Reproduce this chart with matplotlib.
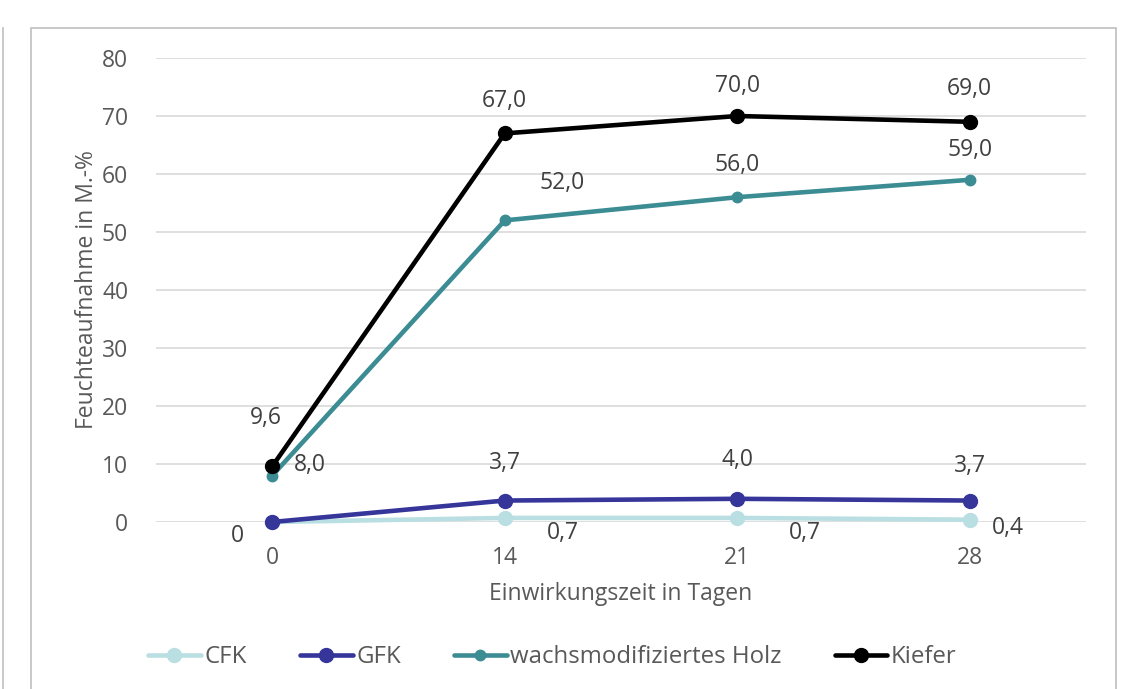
import matplotlib
matplotlib.use("Agg")
import matplotlib.pyplot as plt
from matplotlib.patches import Rectangle
from matplotlib.lines import Line2D

plt.rcParams['font.family'] = ['Open Sans', 'DejaVu Sans']

tage = ['0', '14', '21', '28']
cfk = [0.0, 0.7, 0.7, 0.4]
gfk = [0.0, 3.7, 4.0, 3.7]
holz = [8.0, 52.0, 56.0, 59.0]
kiefer = [9.6, 67.0, 70.0, 69.0]

# (name, values, colour, marker size, label offsets in px, which points get a label)
series = [
    ('CFK', cfk, '#badfe2', 10,
     [(-35, -14), (58, -15), (68, -15), (38, -8)], [1, 1, 1, 1]),
    ('GFK', gfk, '#35359a', 10,
     [(0, 0), (0, 38), (0, 39), (0, 35)], [0, 1, 1, 1]),
    ('wachsmodifiziertes Holz', holz, '#3c8c93', 7.5,
     [(38, 11), (57, 37), (0, 32), (0, 30)], [1, 1, 1, 1]),
    ('Kiefer', kiefer, '#000000', 10,
     [(-6, 48), (0, 32), (0, 30), (0, 33)], [1, 1, 1, 1]),
]

def fmt(v):
    if v == 0:
        return '0'
    return ('%.1f' % v).replace('.', ',')

fig = plt.figure(figsize=(11.39, 6.89), dpi=100)
W, H = 1139, 689

# outer chart frames
fig.patches.append(Rectangle((31 / W, -0.01), (1116 - 31) / W, 1 - 28 / H + 0.01,
                             transform=fig.transFigure, fill=False,
                             edgecolor='#bfbfbf', lw=1.2))
fig.add_artist(Line2D([3 / W, 3 / W], [0, 1 - 28 / H], transform=fig.transFigure,
                      color='#bfbfbf', lw=1.2))

ax = fig.add_axes([156 / W, 1 - 522 / H, (1086 - 156) / W, (522 - 58) / H])
x = list(range(len(tage)))

for name, vals, col, ms, offs, show in series:
    ax.plot(x, vals, color=col, lw=3.3, marker='o', ms=ms, label=name,
            clip_on=False, zorder=3, solid_capstyle='round')
    for i, v in enumerate(vals):
        if not show[i]:
            continue
        ax.annotate(fmt(v), (x[i], v), xytext=offs[i], textcoords='offset pixels',
                    ha='center', va='center', fontsize=16.5, color='#404040')

ax.set_xlim(-0.5, 3.5)
ax.set_ylim(0, 80)
ax.set_yticks(range(0, 81, 10))
ax.set_xticks(x)
ax.set_xticklabels(tage)
ax.grid(axis='y', color='#d9d9d9', lw=1.2)
ax.set_axisbelow(True)
for s in ax.spines.values():
    s.set_visible(False)
ax.tick_params(length=0, labelsize=16.5, labelcolor='#595959')
ax.tick_params(axis='y', pad=20)
ax.tick_params(axis='x', pad=17)

ax.set_ylabel('Feuchteaufnahme in M.-%', fontsize=16.5, color='#595959', labelpad=2)
ax.set_xlabel('Einwirkungszeit in Tagen', fontsize=16.5, color='#595959', labelpad=9)

leg = ax.legend(loc='center left', bbox_to_anchor=((148 - 156) / 930, (657 - 522) / -464),
                ncol=4, frameon=False, borderpad=0, borderaxespad=0,
                handlelength=2.2, handletextpad=0.15, columnspacing=2.2,
                prop={'size': 17.3})
for t in leg.get_texts():
    t.set_color('#595959')

fig.savefig('out.png', dpi=100)
